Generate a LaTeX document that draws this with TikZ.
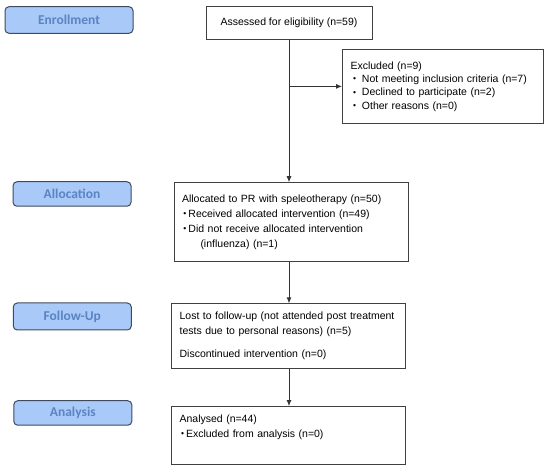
\documentclass[tikz,border=0pt]{standalone}
\usepackage{fontspec}
\setmainfont{Liberation Sans}
\newfontfamily\tagfont{Carlito}
\usetikzlibrary{arrows.meta, positioning}

\definecolor{tagFill}{HTML}{A9C9F8}
\definecolor{tagText}{HTML}{5A84C2}
\definecolor{tagEdge}{HTML}{3E4A5E}

% small list bullet, #1 = gap before the item text
\newcommand{\bul}[1]{\raisebox{0.8pt}{\fontsize{8.5}{8.5}\selectfont\textbullet}\hspace{#1}}

\begin{document}
\begin{tikzpicture}[
    x=1pt, y=-1pt,
    % Stage Tags
    stageTag/.style={
        rectangle, rounded corners=4pt, draw=tagEdge, line width=1pt, fill=tagFill,
        minimum width=118pt, minimum height=24.5pt, inner sep=0pt,
        font=\tagfont\bfseries\fontsize{13.5}{16}\selectfont, text=tagText
    },
    % Box Styles
    baseBox/.style={
        rectangle, draw=black!75, line width=0.9pt,
        font=\fontsize{10.5}{15}\selectfont
    },
    flowBox/.style={
        baseBox, minimum width=234pt, text width=218pt, inner xsep=8pt, align=left
    },
    % Arrow Style
    flowArrow/.style={-{Latex[length=6pt, width=5pt]}, line width=0.9pt, draw=black!80}
]
    \useasboundingbox (0,0) rectangle (550,468);

    % --- MAIN FLOW ---
    \node[baseBox, minimum width=166pt, minimum height=32.5pt] (assess) at (289,23)
        {Assessed for eligibility (n=59)};
    \node[flowBox, minimum height=79pt, below=142.5pt of assess, xshift=2pt] (alloc)
        {Allocated to PR with speleotherapy (n=50)\\
         \hspace*{1.5pt}\bul{2pt}Received allocated intervention (n=49)\\
         \hspace*{1.5pt}\bul{2pt}Did not receive allocated intervention\\
         \hspace*{18.5pt}(influenza) (n=1)};
    \node[flowBox, minimum height=64.5pt, below=41.3pt of alloc, xshift=-2.4pt] (follow)
        {Lost to follow-up (not attended post treatment\\
         tests due to personal reasons) (n=5)\\[8pt]
         Discontinued intervention (n=0)};
    \node[flowBox, minimum height=58pt, below=37.3pt of follow] (analys)
        {Analysed (n=44)\\
         \hspace*{1.5pt}\bul{2pt}Excluded from analysis (n=0)\\
         \strut};

    % --- EXCLUDED ---
    \node[flowBox, minimum width=201pt, text width=185pt, minimum height=74pt,
          font=\fontsize{10.5}{13.4}\selectfont] (excl) at (443,86.4)
        {Excluded (n=9)\\
         \hspace*{2.5pt}\bul{6pt}Not meeting inclusion criteria (n=7)\\
         \hspace*{2.5pt}\bul{6pt}Declined to participate (n=2)\\
         \hspace*{2.5pt}\bul{6pt}Other reasons (n=0)};

    % --- STAGE TAGS ---
    \node[stageTag, minimum width=128pt, minimum height=26.6pt] (enrollTag) at (69,20) {Enrollment};
    \node[stageTag] (allocTag) at (72,194) {Allocation};
    \node[stageTag, minimum height=27pt] (followTag) at (72.3,316.5) {Follow-Up};
    \node[stageTag] (analysTag) at (72.8,413) {Analysis};

    % --- ARROWS ---
    \draw[flowArrow] (assess) -- (assess |- alloc.north);
    \coordinate (branch) at (assess |- excl.west);
    \draw[flowArrow] (branch) -- (excl);
    \foreach \a/\b in {alloc/follow, follow/analys} {
        \draw[flowArrow] (assess |- \a.south) -- (assess |- \b.north);
    }

\end{tikzpicture}
\end{document}
